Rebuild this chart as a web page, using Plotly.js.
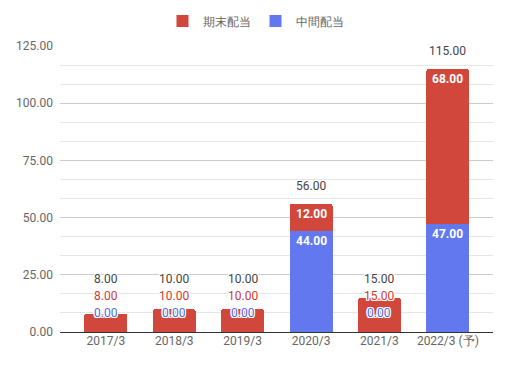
<!DOCTYPE html>
<html>
<head>
<meta charset="utf-8">
<script src="https://cdn.plot.ly/plotly-3.0.1.min.js"></script>
<style>html,body{margin:0;padding:0;background:#fff;}#chart{width:511px;height:368px;}</style>
</head>
<body>
<div id="chart"></div>
<script>
const categories = ['2017/3', '2018/3', '2019/3', '2020/3', '2021/3', '2022/3 (予)'];
const interimValues = [0, 0, 0, 44, 0, 47];      // 中間配当
const finalValues = [8, 10, 10, 12, 15, 68];     // 期末配当
const totals = categories.map((c, i) => interimValues[i] + finalValues[i]);
const yTicks = [0, 25, 50, 75, 100, 125];
const yTickLabels = ['0.00', '25.00', '50.00', '75.00', '100.00', '125.00'];

const RED = '#d2473c';
const BLUE = '#6278ef';
const FONT = 'Roboto, Arial, sans-serif';
const halo = '1px 0 0 #fff, -1px 0 0 #fff, 0 1px 0 #fff, 0 -1px 0 #fff, 1px 1px 0 #fff, -1px -1px 0 #fff, 1px -1px 0 #fff, -1px 1px 0 #fff';

const plotH = 286, yMax = 125;
const pxPerUnit = plotH / yMax;
const fmt = v => v.toFixed(2);

const annotations = [];
categories.forEach((c, i) => {
  const b = interimValues[i], r = finalValues[i], t = totals[i];
  const small = b * pxPerUnit < 20;
  if (!small) {
    annotations.push({x: c, y: b, text: fmt(b), showarrow: false, yanchor: 'middle', yshift: -10,
      font: {family: FONT, size: 12, color: '#ffffff', weight: 700}});
    annotations.push({x: c, y: t, text: fmt(r), showarrow: false, yanchor: 'middle', yshift: -10,
      font: {family: FONT, size: 12, color: '#ffffff', weight: 700}});
    annotations.push({x: c, y: t, text: fmt(t), showarrow: false, yanchor: 'middle', yshift: 18,
      font: {family: FONT, size: 12, color: '#444444', shadow: halo}});
  } else {
    annotations.push({x: c, y: 0, text: fmt(b), showarrow: false, yanchor: 'middle', yshift: 19,
      font: {family: FONT, size: 12, color: '#4a6be6', shadow: halo}});
    annotations.push({x: c, y: 0, text: fmt(r), showarrow: false, yanchor: 'middle', yshift: 36,
      font: {family: FONT, size: 12, color: '#cc3b30', shadow: halo}});
    annotations.push({x: c, y: 0, text: fmt(t), showarrow: false, yanchor: 'middle', yshift: 53,
      font: {family: FONT, size: 12, color: '#444444', shadow: halo}});
  }
});

const data = [
  {type: 'bar', name: '中間配当', x: categories, y: interimValues, marker: {color: BLUE, cornerradius: 3}, hoverinfo: 'none', showlegend: false},
  {type: 'bar', name: '期末配当', x: categories, y: finalValues, marker: {color: RED, cornerradius: 3}, hoverinfo: 'none', showlegend: false},
  // legend entries with square swatches (no drawn bars)
  {type: 'bar', name: '中間配当', x: [categories[0]], y: [null], marker: {color: BLUE}, hoverinfo: 'none', showlegend: true},
  {type: 'bar', name: '期末配当', x: [categories[0]], y: [null], marker: {color: RED}, hoverinfo: 'none', showlegend: true}
];

const layout = {
  width: 511, height: 368,
  margin: {l: 60, r: 18, t: 46, b: 36},
  paper_bgcolor: '#fff', plot_bgcolor: '#fff',
  barmode: 'stack', bargap: 0.37,
  font: {family: FONT, size: 12, color: '#666'},
  showlegend: true,
  legend: {orientation: 'h', traceorder: 'reversed', x: 0.5, xref: 'container', xanchor: 'center',
    y: 1 - 21 / 368, yref: 'container', yanchor: 'middle', itemwidth: 30,
    font: {family: FONT, size: 12, color: '#666'}},
  xaxis: {type: 'category', categoryarray: categories, categoryorder: 'array', range: [-0.67, 5.66], showgrid: false, zeroline: false, showline: false,
    ticks: '', tickfont: {family: FONT, size: 12, color: '#666'}, fixedrange: true},
  yaxis: {range: [0, yMax], tickvals: yTicks, ticktext: yTickLabels, showgrid: true, gridcolor: '#cccccc',
    gridwidth: 1, zeroline: true, zerolinecolor: '#333333', zerolinewidth: 1, showline: false,
    ticks: '', tickfont: {family: FONT, size: 12, color: '#666'}, ticklabelstandoff: 6,
    minor: {dtick: 25/3, tick0: 0, showgrid: true, gridcolor: '#e6e6e6', gridwidth: 1}, fixedrange: true},
  annotations: annotations
};

Plotly.newPlot('chart', data, layout, {displayModeBar: false, staticPlot: true});
</script>
</body>
</html>
